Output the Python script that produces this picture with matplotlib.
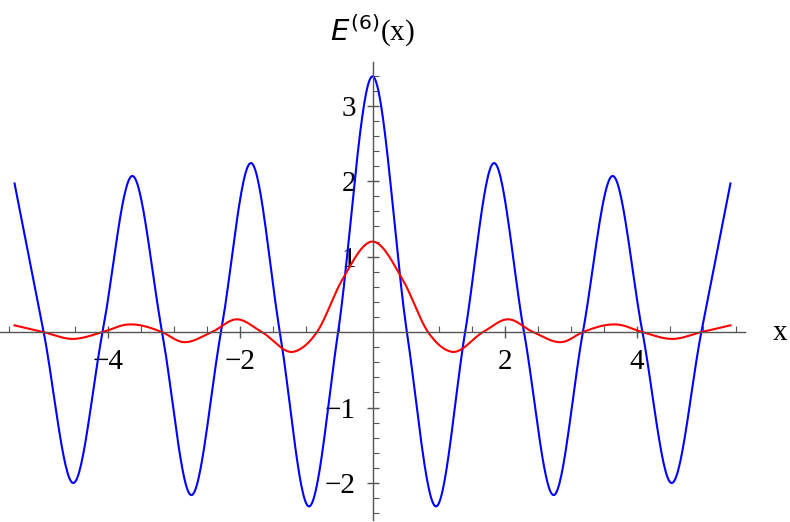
import numpy as np
import matplotlib.pyplot as plt
from matplotlib.ticker import MultipleLocator

# points (extrema, zero crossings); curve is symmetric in x
blue_x = [0.0, 0.52, 0.96, 1.40, 1.83, 2.29, 2.74, 3.18, 3.63, 4.08, 4.52, 4.97, 5.41]
blue_y = [3.39, 0.0, -2.31, 0.0, 2.24, 0.0, -2.16, 0.0, 2.07, 0.0, -2.00, 0.0, 1.97]
red_x = [0.0, 0.46, 0.84, 1.19, 1.67, 2.05, 2.43, 2.88, 3.18, 3.71, 4.08, 4.54, 4.97, 5.41]
red_y = [1.20, 0.69, 0.0, -0.26, 0.0, 0.17, 0.0, -0.13, 0.0, 0.10, 0.0, -0.09, 0.0, 0.09]


def mirror(xs, ys):
    x = np.array(xs)
    y = np.array(ys)
    return np.concatenate([-x[:0:-1], x]), np.concatenate([y[:0:-1], y])


def smooth(x, y, n=30):
    # Catmull-Rom style cubic Hermite through the read points, just for drawing
    m = np.gradient(y, x)
    xs, ys = [], []
    for i in range(len(x) - 1):
        h = x[i + 1] - x[i]
        t = np.linspace(0, 1, n, endpoint=False)
        h00 = 2 * t**3 - 3 * t**2 + 1
        h10 = t**3 - 2 * t**2 + t
        h01 = -2 * t**3 + 3 * t**2
        h11 = t**3 - t**2
        xs.append(x[i] + t * h)
        ys.append(h00 * y[i] + h10 * h * m[i] + h01 * y[i + 1] + h11 * h * m[i + 1])
    xs.append([x[-1]])
    ys.append([y[-1]])
    return np.concatenate(xs), np.concatenate(ys)


# extrema get zero slope
def smooth_ext(x, y, n=30):
    xx, yy = smooth(x, y, n)
    return xx, yy


plt.rcParams['font.family'] = ['Liberation Serif', 'DejaVu Serif']
fig = plt.figure(figsize=(7.9, 5.22), dpi=100)
ax = fig.add_axes([0, 2 / 522, 745 / 790, 458 / 522])

bx, by = mirror(blue_x, blue_y)
rx, ry = mirror(red_x, red_y)
ax.plot(*smooth(bx, by), color='#0000ff', lw=1.5)
ax.plot(*smooth(rx, ry), color='#ff0000', lw=1.5)

ax.set_xlim(-5.63, 5.63)
ax.set_ylim(-2.49, 3.58)
for s in ['top', 'right']:
    ax.spines[s].set_visible(False)
ax.spines['left'].set_position(('data', 0))
ax.spines['bottom'].set_position(('data', 0))
for s in ['left', 'bottom']:
    ax.spines[s].set_color('#555555')
    ax.spines[s].set_linewidth(1)

ax.set_xticks([-4, -2, 2, 4])
ax.set_xticklabels(['\u22124', '\u22122', '2', '4'])
ax.set_yticks([-2, -1, 1, 2, 3])
ax.set_yticklabels(['\u22122', '\u22121', '1', '2', '3'])
ax.xaxis.set_minor_locator(MultipleLocator(0.5))
ax.yaxis.set_minor_locator(MultipleLocator(0.2))
ax.tick_params(which='major', direction='inout', length=8, width=1, color='#555555',
               labelsize=21, pad=8)
ax.tick_params(which='minor', direction='in', length=4, width=0.8, color='#555555')
for lab in ax.get_yticklabels():
    lab.set_bbox(dict(facecolor='white', edgecolor='none', pad=0))

ax.text(0, 3.75, r'$E^{(6)}$(x)', ha='center', va='bottom', fontsize=21,
        transform=ax.transData, clip_on=False)
fig.text(780 / 790, 1 - 333 / 522, 'x', ha='center', va='center', fontsize=21)

fig.savefig('out.png', dpi=100)
